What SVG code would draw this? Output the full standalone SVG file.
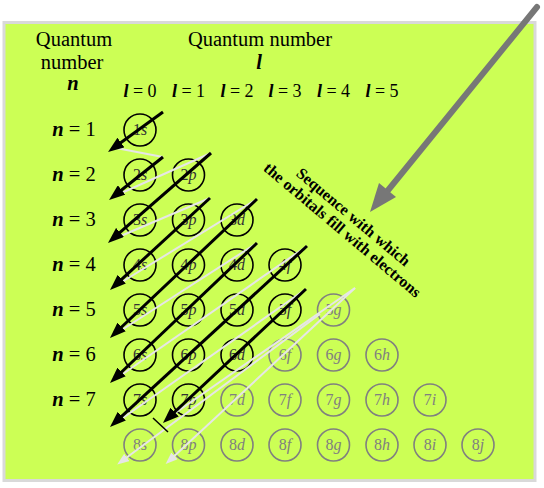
<svg xmlns="http://www.w3.org/2000/svg" width="544" height="488" viewBox="0 0 544 488" font-family="'Liberation Serif', 'DejaVu Serif', serif">
<style>
text{font-family:'Liberation Serif','DejaVu Serif',serif;fill:#000}
.hd{font-size:20.5px}
.bi{font-weight:bold;font-style:italic}
.lab{font-size:18px;text-anchor:middle}
.nl{font-size:20.5px;text-anchor:middle}
.orb circle{fill:none;stroke:#000;stroke-width:1.6}
.orb text{font-size:16px;text-anchor:middle;fill:#333}
.emp circle{fill:none;stroke:#808080;stroke-width:1.6}
.emp text{font-size:16px;text-anchor:middle;fill:#808080}
.it{font-style:italic}
.arr{stroke:#000;stroke-width:3;fill:none;marker-end:url(#ah)}
.lc{stroke:#e6e6e6;stroke-width:2;fill:none}
.la{stroke:#e6e6e6;stroke-width:2;fill:none;marker-end:url(#lh)}
.seq{font-size:16px;font-weight:bold;text-anchor:middle}
</style>
<defs>
<marker id="ah" viewBox="0 0 16 12" refX="8" refY="6" markerWidth="16" markerHeight="12" markerUnits="userSpaceOnUse" orient="auto">
<path d="M0,0 L16,6 L0,12 z" fill="#000"/>
</marker>
<marker id="lh" viewBox="0 0 12 9" refX="6" refY="4.5" markerWidth="12" markerHeight="9" markerUnits="userSpaceOnUse" orient="auto">
<path d="M0,0 L12,4.5 L0,9 z" fill="#e6e6e6"/>
</marker>
</defs>
<rect x="4" y="22.5" width="531" height="458" fill="#ccff55" stroke="#d9d9d9" stroke-width="3"/>
<g id="headers">
<text class="hd" x="74" y="46" text-anchor="middle">Quantum</text>
<text class="hd" x="72" y="69" text-anchor="middle">number</text>
<text class="hd bi" x="73" y="90" text-anchor="middle">n</text>
<text class="hd" x="260" y="46" text-anchor="middle">Quantum number</text>
<text class="hd bi" x="259" y="69" text-anchor="middle">l</text>
</g>
<g id="l-labels">
<text class="lab" x="140" y="97"><tspan class="bi">l</tspan> = 0</text>
<text class="lab" x="188.5" y="97"><tspan class="bi">l</tspan> = 1</text>
<text class="lab" x="237" y="97"><tspan class="bi">l</tspan> = 2</text>
<text class="lab" x="285" y="97"><tspan class="bi">l</tspan> = 3</text>
<text class="lab" x="333.5" y="97"><tspan class="bi">l</tspan> = 4</text>
<text class="lab" x="382" y="97"><tspan class="bi">l</tspan> = 5</text>
</g>
<g id="n-labels">
<text class="nl" x="74" y="136"><tspan class="bi">n</tspan> = 1</text>
<text class="nl" x="74" y="181"><tspan class="bi">n</tspan> = 2</text>
<text class="nl" x="74" y="226"><tspan class="bi">n</tspan> = 3</text>
<text class="nl" x="74" y="271"><tspan class="bi">n</tspan> = 4</text>
<text class="nl" x="74" y="316"><tspan class="bi">n</tspan> = 5</text>
<text class="nl" x="74" y="361"><tspan class="bi">n</tspan> = 6</text>
<text class="nl" x="74" y="406"><tspan class="bi">n</tspan> = 7</text>
</g>
<g id="o1s" class="orb"><circle cx="140" cy="130" r="16"/><text x="140" y="135">1<tspan class="it">s</tspan></text></g>
<g id="o2s" class="orb"><circle cx="140" cy="175" r="16"/><text x="140" y="180">2<tspan class="it">s</tspan></text></g>
<g id="o2p" class="orb"><circle cx="188.5" cy="175" r="16"/><text x="188.5" y="180">2<tspan class="it">p</tspan></text></g>
<g id="o3s" class="orb"><circle cx="140" cy="220" r="16"/><text x="140" y="225">3<tspan class="it">s</tspan></text></g>
<g id="o3p" class="orb"><circle cx="188.5" cy="220" r="16"/><text x="188.5" y="225">3<tspan class="it">p</tspan></text></g>
<g id="o3d" class="orb"><circle cx="237" cy="220" r="16"/><text x="237" y="225">3<tspan class="it">d</tspan></text></g>
<g id="o4s" class="orb"><circle cx="140" cy="265" r="16"/><text x="140" y="270">4<tspan class="it">s</tspan></text></g>
<g id="o4p" class="orb"><circle cx="188.5" cy="265" r="16"/><text x="188.5" y="270">4<tspan class="it">p</tspan></text></g>
<g id="o4d" class="orb"><circle cx="237" cy="265" r="16"/><text x="237" y="270">4<tspan class="it">d</tspan></text></g>
<g id="o4f" class="orb"><circle cx="285" cy="265" r="16"/><text x="285" y="270">4<tspan class="it">f</tspan></text></g>
<g id="o5s" class="orb"><circle cx="140" cy="310" r="16"/><text x="140" y="315">5<tspan class="it">s</tspan></text></g>
<g id="o5p" class="orb"><circle cx="188.5" cy="310" r="16"/><text x="188.5" y="315">5<tspan class="it">p</tspan></text></g>
<g id="o5d" class="orb"><circle cx="237" cy="310" r="16"/><text x="237" y="315">5<tspan class="it">d</tspan></text></g>
<g id="o5f" class="orb"><circle cx="285" cy="310" r="16"/><text x="285" y="315">5<tspan class="it">f</tspan></text></g>
<g id="o5g" class="emp"><circle cx="333.5" cy="310" r="16"/><text x="333.5" y="315">5<tspan class="it">g</tspan></text></g>
<g id="o6s" class="orb"><circle cx="140" cy="355" r="16"/><text x="140" y="360">6<tspan class="it">s</tspan></text></g>
<g id="o6p" class="orb"><circle cx="188.5" cy="355" r="16"/><text x="188.5" y="360">6<tspan class="it">p</tspan></text></g>
<g id="o6d" class="orb"><circle cx="237" cy="355" r="16"/><text x="237" y="360">6<tspan class="it">d</tspan></text></g>
<g id="o6f" class="emp"><circle cx="285" cy="355" r="16"/><text x="285" y="360">6<tspan class="it">f</tspan></text></g>
<g id="o6g" class="emp"><circle cx="333.5" cy="355" r="16"/><text x="333.5" y="360">6<tspan class="it">g</tspan></text></g>
<g id="o6h" class="emp"><circle cx="382" cy="355" r="16"/><text x="382" y="360">6<tspan class="it">h</tspan></text></g>
<g id="o7s" class="orb"><circle cx="140" cy="400" r="16"/><text x="140" y="405">7<tspan class="it">s</tspan></text></g>
<g id="o7p" class="orb"><circle cx="188.5" cy="400" r="16"/><text x="188.5" y="405">7<tspan class="it">p</tspan></text></g>
<g id="o7d" class="emp"><circle cx="237" cy="400" r="16"/><text x="237" y="405">7<tspan class="it">d</tspan></text></g>
<g id="o7f" class="emp"><circle cx="285" cy="400" r="16"/><text x="285" y="405">7<tspan class="it">f</tspan></text></g>
<g id="o7g" class="emp"><circle cx="333.5" cy="400" r="16"/><text x="333.5" y="405">7<tspan class="it">g</tspan></text></g>
<g id="o7h" class="emp"><circle cx="382" cy="400" r="16"/><text x="382" y="405">7<tspan class="it">h</tspan></text></g>
<g id="o7i" class="emp"><circle cx="430" cy="400" r="16"/><text x="430" y="405">7<tspan class="it">i</tspan></text></g>
<g id="o8s" class="emp"><circle cx="140" cy="445" r="16"/><text x="140" y="450">8<tspan class="it">s</tspan></text></g>
<g id="o8p" class="emp"><circle cx="188.5" cy="445" r="16"/><text x="188.5" y="450">8<tspan class="it">p</tspan></text></g>
<g id="o8d" class="emp"><circle cx="237" cy="445" r="16"/><text x="237" y="450">8<tspan class="it">d</tspan></text></g>
<g id="o8f" class="emp"><circle cx="285" cy="445" r="16"/><text x="285" y="450">8<tspan class="it">f</tspan></text></g>
<g id="o8g" class="emp"><circle cx="333.5" cy="445" r="16"/><text x="333.5" y="450">8<tspan class="it">g</tspan></text></g>
<g id="o8h" class="emp"><circle cx="382" cy="445" r="16"/><text x="382" y="450">8<tspan class="it">h</tspan></text></g>
<g id="o8i" class="emp"><circle cx="430" cy="445" r="16"/><text x="430" y="450">8<tspan class="it">i</tspan></text></g>
<g id="o8j" class="emp"><circle cx="478" cy="445" r="16"/><text x="478" y="450">8<tspan class="it">j</tspan></text></g>
<g id="connectors">
<line class="lc" x1="116" y1="148" x2="163" y2="157"/>
<line class="lc" x1="117" y1="195" x2="211" y2="153"/>
<line class="lc" x1="116" y1="238" x2="210" y2="198"/>
<line class="lc" x1="117" y1="285" x2="257" y2="199"/>
<line class="lc" x1="117" y1="333" x2="257" y2="243"/>
<line class="lc" x1="117" y1="378" x2="307" y2="246"/>
<line class="lc" x1="117" y1="422" x2="306" y2="289"/>
<line class="lc" x1="168" y1="418" x2="355" y2="288"/>
<line class="la" x1="355" y1="288" x2="170" y2="460"/>
<line class="la" x1="320" y1="314" x2="122" y2="461"/>
<line class="arr" x1="163" y1="112" x2="114.5" y2="147.3"/>
<line class="arr" x1="163" y1="157" x2="115.3" y2="195"/>
<line class="arr" x1="211" y1="153" x2="114" y2="237.7"/>
<line class="arr" x1="210" y1="198" x2="115.9" y2="284.6"/>
<line class="arr" x1="257" y1="199" x2="115.8" y2="332.5"/>
<line class="arr" x1="257" y1="243" x2="115.8" y2="377.5"/>
<line class="arr" x1="307" y1="246" x2="115.9" y2="421.6"/>
<line class="arr" x1="306" y1="289" x2="168.8" y2="417.5"/>
<line x1="153" y1="418" x2="168" y2="432" stroke="#000" stroke-width="1.5"/>
<g id="seq-arrow">
<line x1="537" y1="7" x2="385" y2="194" stroke="#777" stroke-width="6" stroke-linecap="round"/>
<path d="M370,212 L379,183 L396,197 z" fill="#777"/>
</g>
</g>
<g id="seq-label" transform="translate(350,221) rotate(40)">
<text class="seq" x="0" y="0">Sequence with which</text>
<text class="seq" x="0" y="17">the orbitals fill with electrons</text>
</g>
</svg>
